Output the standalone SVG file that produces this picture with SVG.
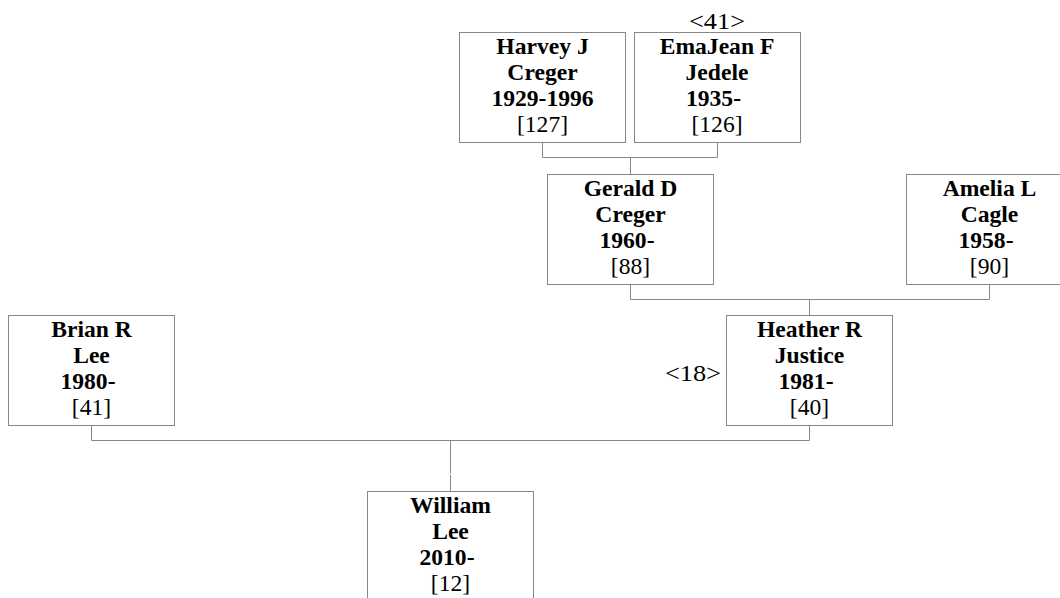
<svg xmlns="http://www.w3.org/2000/svg" width="1060" height="598" viewBox="0 0 1060 598">
<style>
.box{fill:#fff;stroke:#888;stroke-width:1}
.ln{fill:none;stroke:#888;stroke-width:1}
text{font-family:"Liberation Serif","Times New Roman",serif;font-size:23.6px;fill:#000;text-anchor:middle}
.b{font-weight:bold}
</style>
<rect width="1060" height="598" fill="#fff"/>
<g id="connectors">
<path class="ln" d="M542.5,142.5V157.5H717.5V142.5M630.5,157.5V174.5"/>
<path class="ln" d="M630.5,284.5V299.5H989.5V284.5M809.5,299.5V315.5"/>
<path class="ln" d="M91.5,425.5V440.5H809.5V425.5M450.5,440.5V473.5M450.5,475V491.5"/>
</g>
<g id="harvey">
<rect class="box" x="459.5" y="32.5" width="166" height="110"/>
<text class="b" x="542.5" y="53.5">Harvey J</text>
<text class="b" x="542.5" y="79.5">Creger</text>
<text class="b" x="542.5" y="105.5">1929-1996</text>
<text x="542.5" y="131.5">[127]</text>
</g>
<g id="emajean">
<text x="717" y="29" textLength="56" lengthAdjust="spacingAndGlyphs">&lt;41&gt;</text>
<rect class="box" x="634.5" y="32.5" width="166" height="110"/>
<text class="b" x="717" y="53.5">EmaJean F</text>
<text class="b" x="717" y="79.5">Jedele</text>
<text class="b" x="713.5" y="105.5">1935-</text>
<text x="717" y="131.5">[126]</text>
</g>
<g id="gerald">
<rect class="box" x="547.5" y="174.5" width="166" height="110"/>
<text class="b" x="630.5" y="195.5">Gerald D</text>
<text class="b" x="630.5" y="221.5">Creger</text>
<text class="b" x="627" y="247.5">1960-</text>
<text x="630.5" y="273.5">[88]</text>
</g>
<g id="amelia">
<rect class="box" x="906.5" y="174.5" width="166" height="110"/>
<text class="b" x="989.5" y="195.5">Amelia L</text>
<text class="b" x="989.5" y="221.5">Cagle</text>
<text class="b" x="986" y="247.5">1958-</text>
<text x="989.5" y="273.5">[90]</text>
</g>
<g id="heather">
<text x="693" y="381" textLength="56" lengthAdjust="spacingAndGlyphs">&lt;18&gt;</text>
<rect class="box" x="726.5" y="315.5" width="166" height="110"/>
<text class="b" x="809.5" y="336.5">Heather R</text>
<text class="b" x="809.5" y="362.5">Justice</text>
<text class="b" x="806" y="388.5">1981-</text>
<text x="809.5" y="414.5">[40]</text>
</g>
<g id="brian">
<rect class="box" x="8.5" y="315.5" width="166" height="110"/>
<text class="b" x="91.5" y="336.5">Brian R</text>
<text class="b" x="91.5" y="362.5">Lee</text>
<text class="b" x="88" y="388.5">1980-</text>
<text x="91.5" y="414.5">[41]</text>
</g>
<g id="william">
<rect class="box" x="367.5" y="491.5" width="166" height="110"/>
<text class="b" x="450.5" y="512.5">William</text>
<text class="b" x="450.5" y="538.5">Lee</text>
<text class="b" x="447" y="564.5">2010-</text>
<text x="450.5" y="590.5">[12]</text>
</g>
</svg>
